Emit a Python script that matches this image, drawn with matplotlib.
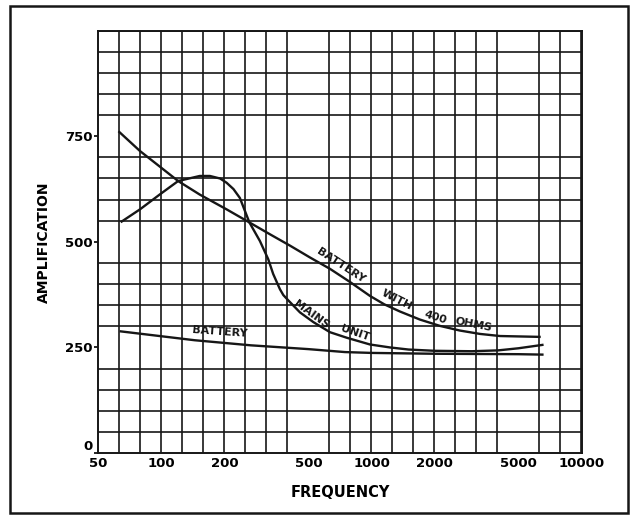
import numpy as np
import matplotlib
matplotlib.use('Agg')
import matplotlib.pyplot as plt
from matplotlib.patches import Rectangle
from matplotlib.ticker import FixedLocator, NullFormatter

# curve readings (frequency in c/s, amplification)
freq_400 = [63, 79, 120, 152, 204, 262, 328, 409, 509, 634, 789, 982, 1150,
            1365, 1698, 2114, 2630, 3278, 4085, 6300]
amp_400 = [760, 715, 644, 612, 577, 546, 518, 491, 463, 436, 405, 372, 352,
           335, 316, 301, 290, 282, 277, 275]

freq_mains = [64.6, 79, 98, 120, 152, 170, 190, 204, 220, 236, 262, 294, 322, 340, 366,
              380, 402, 456, 528, 634, 761, 982, 1222, 1500, 2000, 3000, 4000, 5000, 6500]
amp_mains = [548, 577, 612, 644, 656, 656, 650, 640, 625, 604, 546, 502, 459, 424, 388,
             374, 361, 333, 310, 286, 273, 257, 250, 245, 242, 241, 243, 248, 256]

freq_batt = [64, 144, 266, 500, 747, 1000, 2000, 5000, 6500]
amp_batt = [288, 267, 255, 246, 239, 237, 235, 234, 233]

x_ticks = [50, 100, 200, 500, 1000, 2000, 5000, 10000]
y_ticks = [0, 250, 500, 750]

plt.rcParams['font.family'] = ['DejaVu Sans']
plt.rcParams['font.weight'] = 'bold'

fig = plt.figure(figsize=(6.34, 5.21), dpi=100)
ax = fig.add_axes([0.155, 0.1305, 0.7625, 0.8106])

ink = '#161616'
ax.plot(freq_400, amp_400, color=ink, lw=1.7)
ax.plot(freq_mains, amp_mains, color=ink, lw=1.7)
ax.plot(freq_batt, amp_batt, color=ink, lw=1.7)

ax.set_xscale('log')
ax.set_xlim(50, 10000)
ax.set_ylim(0, 1000)

# grid: every tenth of a decade across, every 50 up
ax.xaxis.set_major_locator(FixedLocator(x_ticks))
ax.xaxis.set_minor_locator(FixedLocator(50 * 10 ** (0.1 * np.arange(24))))
ax.xaxis.set_minor_formatter(NullFormatter())
ax.set_xticklabels([str(v) for v in x_ticks])
ax.yaxis.set_major_locator(FixedLocator(y_ticks))
ax.yaxis.set_minor_locator(FixedLocator(np.arange(0, 1001, 50)))
ax.grid(True, which='minor', color=ink, lw=1.2)
ax.grid(False, which='major')
ax.tick_params(axis='x', which='both', length=0, pad=3, labelsize=9.5)
ax.tick_params(axis='y', which='major', length=3, width=1.2, pad=1, labelsize=9.5)
ax.tick_params(axis='y', which='minor', length=0)
ax.get_yticklabels()[0].set_verticalalignment('bottom')
for s in ax.spines.values():
    s.set_linewidth(1.4)
    s.set_color(ink)

ax.set_xlabel('FREQUENCY', fontsize=10.5, fontweight='bold', labelpad=11)
ax.set_ylabel('AMPLIFICATION', fontsize=10, fontweight='bold', labelpad=10)

# curve labels
lab = dict(fontsize=8, fontweight='bold', ha='center', va='center',
           rotation_mode='anchor', color=ink)
ax.text(190, 287, 'BATTERY', rotation=-4, **lab)
ax.text(516, 327, 'MAINS', rotation=-36, **lab)
ax.text(833, 283, 'UNIT', rotation=-19, **lab)
ax.text(717, 445, 'BATTERY', rotation=-33, **lab)
ax.text(1321, 362, 'WITH', rotation=-27, **lab)
ax.text(2003, 322, '400', rotation=-17, **lab)
ax.text(3070, 305, 'OHMS', rotation=-11, **lab)

# outer frame
fig.patches.append(Rectangle((0.015, 0.015), 0.976, 0.974, transform=fig.transFigure,
                             fill=False, lw=1.8, edgecolor=ink))

fig.savefig('out.png', dpi=100)
